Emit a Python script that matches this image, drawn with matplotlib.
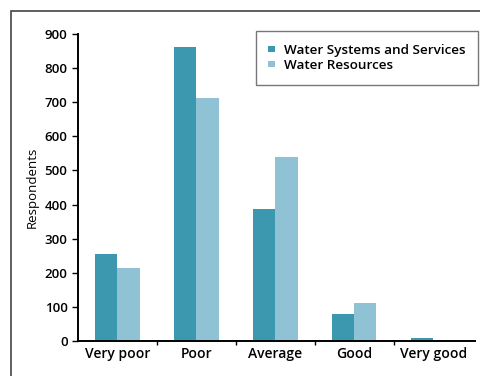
import matplotlib
matplotlib.use("Agg")
import numpy as np
import matplotlib.pyplot as plt
from matplotlib.patches import Rectangle

categories = ["Very poor", "Poor", "Average", "Good", "Very good"]
systems_services = [255, 862, 387, 80, 8]
resources = [215, 712, 538, 110, 4]
yticks = [0, 100, 200, 300, 400, 500, 600, 700, 800, 900]

dark = "#3b98ae"
light = "#8fc2d5"

plt.rcParams['font.family'] = ['Open Sans', 'DejaVu Sans']
plt.rcParams['font.weight'] = 'semibold'

fig = plt.figure(figsize=(4.81, 3.76), dpi=100)
ax = fig.add_axes([0.162, 0.093, 0.826, 0.817])

x = np.arange(len(categories))
w = 0.28
ax.bar(x - w / 2, systems_services, w, color=dark, label="Water Systems and Services")
ax.bar(x + w / 2, resources, w, color=light, label="Water Resources")

ax.set_xlim(-0.5, 4.53)
ax.set_ylim(0, 900)
ax.set_yticks(yticks)
ax.set_xticks(x)
ax.set_xticklabels(categories, fontsize=10)
ax.tick_params(axis='x', length=0, pad=4)
ax.set_xticks(x[:-1] + 0.5, minor=True)
ax.tick_params(axis='x', which='minor', length=3, width=1)
ax.tick_params(axis='y', labelsize=9.5, length=4, width=1)
ax.set_ylabel("Respondents", fontsize=9.5, labelpad=4)

for s in ['top', 'right']:
    ax.spines[s].set_visible(False)
ax.spines['left'].set_linewidth(1.4)
ax.spines['bottom'].set_linewidth(1.4)

leg = ax.legend(loc='upper right', bbox_to_anchor=(1.008, 1.01), fontsize=9.7,
                frameon=True, fancybox=False, handlelength=0.45, handleheight=0.3,
                handletextpad=0.7, borderpad=0.95, labelspacing=0.2, borderaxespad=0)
leg.get_frame().set_edgecolor('#555555')
leg.get_frame().set_linewidth(1.0)

# outer frame around the figure
fig.patches.append(Rectangle((11 / 481, -0.2), 1.2, 1 - 11 / 376 + 0.2,
                             transform=fig.transFigure, fill=False,
                             edgecolor='#444444', linewidth=1.2))

fig.savefig("out.png", dpi=100)
